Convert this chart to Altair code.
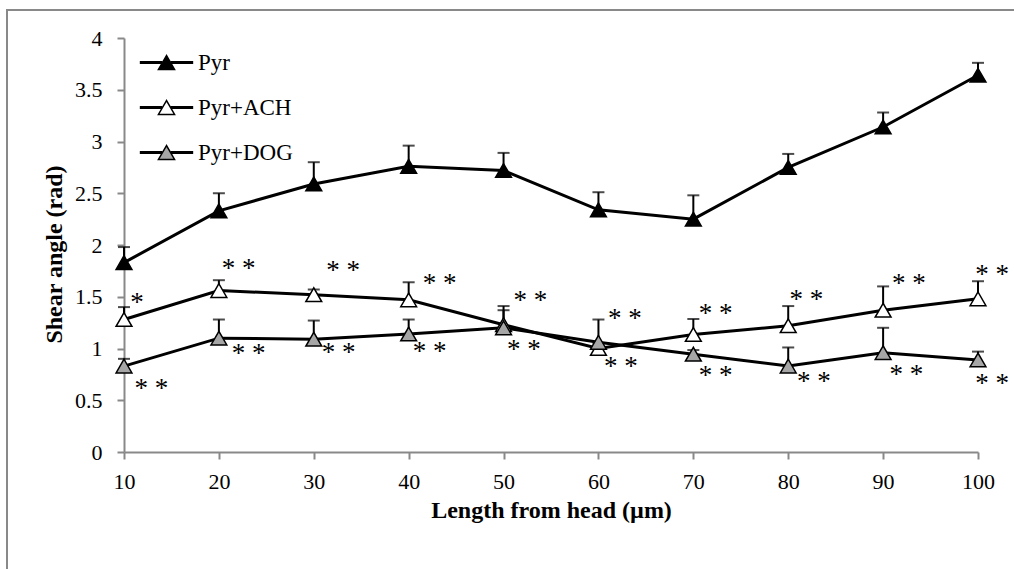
import altair as alt
import pandas as pd

# ---- data ----
lengths = [10, 20, 30, 40, 50, 60, 70, 80, 90, 100]
series_names = ["Pyr", "Pyr+ACH", "Pyr+DOG"]

pyr = [1.83, 2.33, 2.59, 2.76, 2.72, 2.34, 2.25, 2.75, 3.14, 3.64]
pyr_err = [0.15, 0.17, 0.21, 0.20, 0.17, 0.17, 0.23, 0.13, 0.14, 0.12]

ach = [1.28, 1.56, 1.52, 1.47, 1.23, 1.00, 1.135, 1.22, 1.37, 1.48]
ach_err = [0.12, 0.10, 0.05, 0.17, 0.18, 0.05, 0.15, 0.19, 0.23, 0.17]

dog = [0.83, 1.10, 1.09, 1.14, 1.20, 1.06, 0.945, 0.83, 0.96, 0.89]
dog_err = [0.07, 0.18, 0.18, 0.14, 0.17, 0.22, 0.04, 0.18, 0.24, 0.08]

# significance marks (text, x position, y position of the glyph centre)
ann_text = ["*", "* *", "* *", "* *", "* *", "* *", "* *", "* *", "* *", "* *",
            "* *", "* *", "* *", "* *", "* *", "* *", "* *", "* *", "* *", "* *"]
ann_x = [11.37, 22.09, 33.08, 43.27, 52.82, 62.79, 72.35, 81.91, 92.72, 101.5,
         12.89, 23.14, 32.62, 42.21, 52.15, 62.37, 72.35, 82.71, 92.45, 101.5]
ann_y = [1.48, 1.815, 1.796, 1.67, 1.50, 1.33, 1.38, 1.51, 1.667, 1.757,
         0.655, 0.993, 1.00, 1.01, 1.03, 0.865, 0.78, 0.72, 0.783, 0.703]

y_ticks = [0, 0.5, 1, 1.5, 2, 2.5, 3, 3.5, 4]

# ---- tables ----
rows = []
for name, vals, errs in [("Pyr", pyr, pyr_err), ("Pyr+ACH", ach, ach_err), ("Pyr+DOG", dog, dog_err)]:
    for x, v, e in zip(lengths, vals, errs):
        rows.append({"x": x, "y": v, "top": v + e, "series": name, "s2": name})
df = pd.DataFrame(rows)
ann = pd.DataFrame({"x": ann_x, "y": ann_y, "t": ann_text})

FONT = "Liberation Serif"
GRAY_AXIS = "#898989"

xscale = alt.Scale(domain=[10, 100], nice=False, zero=False)
yscale = alt.Scale(domain=[0, 4], nice=False)

x_enc = alt.X("x:Q", scale=xscale, axis=alt.Axis(
    values=lengths, format="d", title="Length from head (µm)", labelFlush=False,
    grid=False, domainColor=GRAY_AXIS, domainWidth=2, tickColor=GRAY_AXIS, tickWidth=2,
    tickSize=7, labelFont=FONT, labelFontSize=22, labelColor="black", labelPadding=12,
    titleFont=FONT, titleFontSize=24, titleFontWeight="bold", titleColor="black",
    titleBaseline="alphabetic", titleY=65))
y_enc = alt.Y("y:Q", scale=yscale, axis=alt.Axis(
    values=y_ticks, format="~g", title="Shear angle (rad)", labelFlush=False,
    grid=False, domainColor=GRAY_AXIS, domainWidth=2, tickColor=GRAY_AXIS, tickWidth=2,
    tickSize=7, labelFont=FONT, labelFontSize=22, labelColor="black", labelPadding=15,
    titleFont=FONT, titleFontSize=24, titleFontWeight="bold", titleColor="black",
    titleAngle=270, titleBaseline="alphabetic", titleAlign="center", titleX=-63, titleY=216))

base = alt.Chart(df)

LEG_X = 31
LEG_Y = 13

frame = alt.Chart(pd.DataFrame({"k": [0]})).mark_rect(
    fill="transparent", stroke=GRAY_AXIS, strokeWidth=2
).encode(x=alt.value(-117), x2=alt.value(900), y=alt.value(-28), y2=alt.value(540))

err_rule = base.mark_rule(color="black", strokeWidth=2).encode(
    x=x_enc, y=y_enc, y2="top:Q")
err_cap = base.mark_tick(orient="horizontal", color="black", size=12, thickness=2).encode(
    x=alt.X("x:Q", scale=xscale), y=alt.Y("top:Q", scale=yscale))

lines = base.mark_line(strokeWidth=3).encode(
    x=alt.X("x:Q", scale=xscale), y=alt.Y("y:Q", scale=yscale),
    color=alt.Color("s2:N", scale=alt.Scale(domain=series_names, range=["black", "black", "black"]),
                    legend=alt.Legend(orient="none", legendX=LEG_X, legendY=LEG_Y, title=None,
                                      symbolType="M-3.31,0H-0.5M0.5,0H3.31", symbolSize=260,
                                      symbolStrokeWidth=3, symbolStrokeColor="black",
                                      symbolFillColor="transparent",
                                      labelFont=FONT, labelFontSize=23, labelOpacity=0,
                                      labelOffset=20, rowPadding=21, padding=0)),
    detail="series:N", order="x:Q")

points = base.mark_point(shape="triangle-up", filled=True, size=250, stroke="black",
                         strokeWidth=1.5, opacity=1).encode(
    x=alt.X("x:Q", scale=xscale), y=alt.Y("y:Q", scale=yscale),
    fill=alt.Fill("series:N", scale=alt.Scale(domain=series_names, range=["black", "white", "#a6a6a6"]),
                  legend=alt.Legend(orient="none", legendX=LEG_X, legendY=LEG_Y, title=None,
                                    symbolType="triangle-up", symbolSize=260,
                                    symbolStrokeWidth=1.5, symbolStrokeColor="black",
                                    symbolOpacity=1,
                                    labelFont=FONT, labelFontSize=23, labelColor="black",
                                    labelOffset=20, rowPadding=21, padding=0)))

labels = alt.Chart(ann).mark_text(font=FONT, fontSize=27, color="black", align="center",
                                  baseline="alphabetic", dy=12.5).encode(
    x=alt.X("x:Q", scale=xscale), y=alt.Y("y:Q", scale=yscale), text="t:N")

chart = alt.layer(frame, err_rule, err_cap, lines, points, labels).resolve_scale(
    color="independent", fill="independent"
).properties(
    width=854, height=414,
    autosize=alt.AutoSizeParams(type="none"),
    padding={"left": 124, "top": 38, "right": 36, "bottom": 117},
    background="white"
).configure_view(stroke=None)

chart.save("out.html", embed_options={"renderer": "svg", "actions": False})
